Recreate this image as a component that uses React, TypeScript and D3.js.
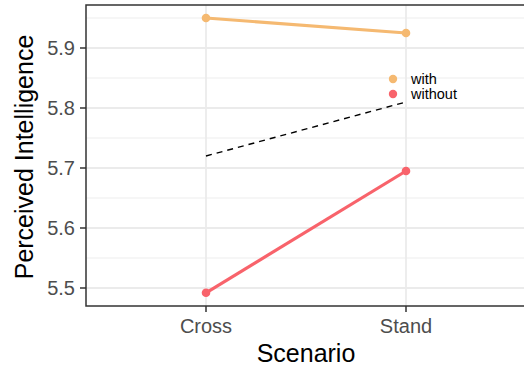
import React from "react";
import * as d3 from "d3";

const scenarios = ["Cross", "Stand"];
const seriesNames = ["with", "without"];
const withValues = [5.95, 5.925];
const withoutValues = [5.492, 5.695];
const dashedValues = [5.72, 5.81];
const yTicks = [5.5, 5.6, 5.7, 5.8, 5.9];
const yMinorTicks = [5.45, 5.55, 5.65, 5.75, 5.85, 5.95];
const colors = ["#F5B971", "#F8636B"];

const W = 524;
const H = 370;
const panel = { left: 86, right: 526, top: 5, bottom: 306 };

export default function App() {
  const x = d3
    .scalePoint<string>()
    .domain(scenarios)
    .range([206, 406]);
  const y = d3.scaleLinear().domain([5.5, 5.9]).range([288, 48]);
  const line = d3
    .line<number>()
    .x((_, i) => x(scenarios[i])!)
    .y((d) => y(d));
  const series = [withValues, withoutValues];
  const font = "'Liberation Sans', Arial, Helvetica, sans-serif";

  return (
    <svg
      width={W}
      height={H}
      style={{ position: "absolute", left: 0, top: 0, background: "white" }}
      fontFamily={font}
    >
      <defs>
        <clipPath id="pc">
          <rect x={panel.left} y={panel.top} width={panel.right - panel.left} height={panel.bottom - panel.top} />
        </clipPath>
      </defs>
      <rect x={0} y={0} width={W} height={H} fill="white" />
      <g clipPath="url(#pc)">
        {yMinorTicks.map((t) => (
          <line key={"mi" + t} x1={panel.left} x2={panel.right} y1={y(t)} y2={y(t)} stroke="#EBEBEB" strokeWidth={0.9} />
        ))}
        {yTicks.map((t) => (
          <line key={"ma" + t} x1={panel.left} x2={panel.right} y1={y(t)} y2={y(t)} stroke="#EBEBEB" strokeWidth={1.8} />
        ))}
        {scenarios.map((s) => (
          <line key={"v" + s} x1={x(s)} x2={x(s)} y1={panel.top} y2={panel.bottom} stroke="#EBEBEB" strokeWidth={1.8} />
        ))}
        <path d={line(dashedValues)!} fill="none" stroke="black" strokeWidth={1.4} strokeDasharray="6,5" />
        {series.map((vals, si) => (
          <g key={seriesNames[si]}>
            <path d={line(vals)!} fill="none" stroke={colors[si]} strokeWidth={3.2} />
            {vals.map((v, i) => (
              <circle key={i} cx={x(scenarios[i])} cy={y(v)} r={4.3} fill={colors[si]} />
            ))}
          </g>
        ))}
        {seriesNames.map((n, i) => (
          <g key={"lg" + n}>
            <circle cx={393} cy={79 + i * 15} r={4.2} fill={colors[i]} />
            <text x={411} y={79 + i * 15} dy="0.35em" fontSize={14.5} fill="black">
              {n}
            </text>
          </g>
        ))}
      </g>
      <rect
        x={panel.left}
        y={panel.top}
        width={panel.right - panel.left}
        height={panel.bottom - panel.top}
        fill="none"
        stroke="#333333"
        strokeWidth={1.5}
      />
      {yTicks.map((t) => (
        <g key={"yt" + t}>
          <line x1={80} x2={panel.left} y1={y(t)} y2={y(t)} stroke="#333333" strokeWidth={1.5} />
          <text x={75} y={y(t)} dy="0.35em" textAnchor="end" fontSize={20} fill="#4D4D4D">
            {d3.format(".1f")(t)}
          </text>
        </g>
      ))}
      {scenarios.map((s) => (
        <g key={"xt" + s}>
          <line x1={x(s)} x2={x(s)} y1={panel.bottom} y2={panel.bottom + 6} stroke="#333333" strokeWidth={1.5} />
          <text x={x(s)} y={333} textAnchor="middle" fontSize={20} fill="#4D4D4D">
            {s}
          </text>
        </g>
      ))}
      <text x={306} y={362} textAnchor="middle" fontSize={25} fill="black">
        Scenario
      </text>
      <text
        transform={`translate(33, 157) rotate(-90)`}
        textAnchor="middle"
        fontSize={25}
        fill="black"
      >
        Perceived Intelligence
      </text>
    </svg>
  );
}
